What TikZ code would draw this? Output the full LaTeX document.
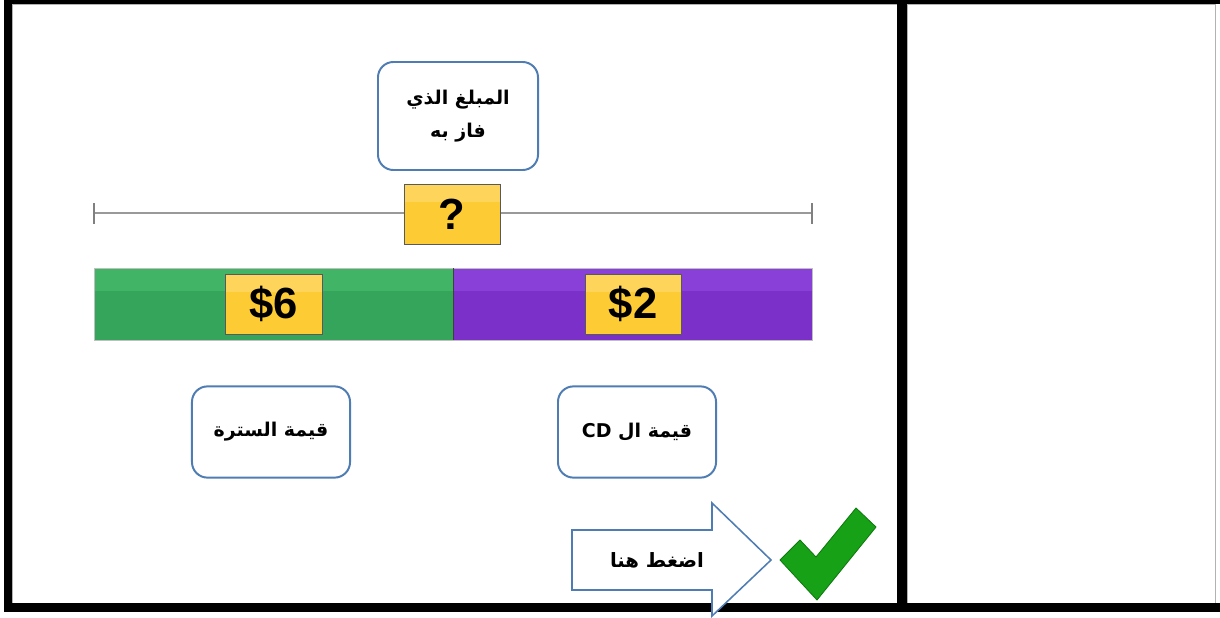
\documentclass[tikz,border=0pt]{standalone}
\usepackage{fontspec}
\setmainfont{Liberation Sans}
\newfontfamily\arabicfont[Script=Arabic]{DejaVu Sans}
\TeXXeTstate=1
\definecolor{calloutblue}{HTML}{4F7DB3}
\definecolor{tagyellow}{HTML}{FDCB33}
\definecolor{tagtop}{HTML}{FED45A}
\definecolor{jacketgreen}{HTML}{34A55A}
\definecolor{jackettop}{HTML}{42B466}
\definecolor{cdpurple}{HTML}{7B30C9}
\definecolor{cdtop}{HTML}{8940D8}
\definecolor{checkgreen}{HTML}{17A117}
\definecolor{checkedge}{HTML}{0E7A0E}
\tikzset{
  callout/.style={draw=calloutblue,line width=1.4pt,rounded corners=11pt,fill=white,
    align=center,font=\arabicfont\bfseries\fontsize{13.5}{23}\selectfont},
  tag/.style={draw=black!65,line width=0.7pt,fill=tagyellow,minimum width=2.4cm,minimum height=1.5cm,
    path picture={\fill[tagtop] (path picture bounding box.north west) rectangle ([yshift=-0.45cm]path picture bounding box.north east);},
    font=\bfseries\fontsize{31}{31}\selectfont}
}
\begin{document}
\begin{tikzpicture}[x=0.025cm,y=-0.025cm,font=\normalfont]
            \useasboundingbox (0,0) rectangle (1220,617);
            \fill[white] (0,0) rectangle (1220,617);
            % frame
            \draw[gray!60] (12,4) rectangle (897,603);
            \draw[gray!60] (907,4) rectangle (1215,603);
            \fill[black] (4,0) rectangle (1220,4);
            \fill[black] (4,0) rectangle (12,612);
            \fill[black] (4,603) rectangle (1220,612);
            \fill[black] (897,0) rectangle (907,612);
            % number line
            \draw[black!40,line width=1pt] (94,213)--(812,213);
            \foreach \x in {94,812}
            \draw[black!50,line width=1pt] (\x,203)--(\x,224);
            % bar
            \fill[jacketgreen] (94,268) rectangle (453,340);
            \fill[jackettop] (94,268) rectangle (453,291);
            \fill[cdpurple] (453,268) rectangle (812,340);
            \fill[cdtop] (453,268) rectangle (812,291);
            \draw[black!25] (94,268) rectangle (812,340);
            \draw[black!75] (453,268)--(453,340);
            % tags
            \node[tag] (total) at (452,214) {?};
            \node[tag] (jacket) at (274,304) {\$6};
            \node[tag] (cd) at (633,304) {\$2};
            % callouts
            \node[callout,minimum width=4cm,minimum height=2.7cm] (won) at (458,116)
              {\beginR المبلغ الذي\endR\\\beginR فاز به\endR};
            \node[callout,minimum width=3.95cm,minimum height=2.28cm] (jacketlabel) at (271,432)
              {\beginR قيمة السترة\endR};
            \node[callout,minimum width=3.95cm,minimum height=2.28cm] (cdlabel) at (637,432)
              {\beginR قيمة ال \beginL CD\endL\endR};
            % arrow
            \draw[calloutblue,line width=1.1pt,fill=white] (572,530)--(712,530)--(712,503)--(771,560)
              --(712,616)--(712,590)--(572,590)--cycle;
            \node[font=\arabicfont\bfseries\fontsize{14}{16}\selectfont] (press) at (657,560) {\beginR اضغط هنا\endR};
            % check mark
            \fill[checkgreen,draw=checkedge,line width=0.6pt,line join=round]
              (780,560)--(800,540)--(816,557)--(856,508)--(876,527)--(817,600)--cycle;
        \end{tikzpicture}
\end{document}
